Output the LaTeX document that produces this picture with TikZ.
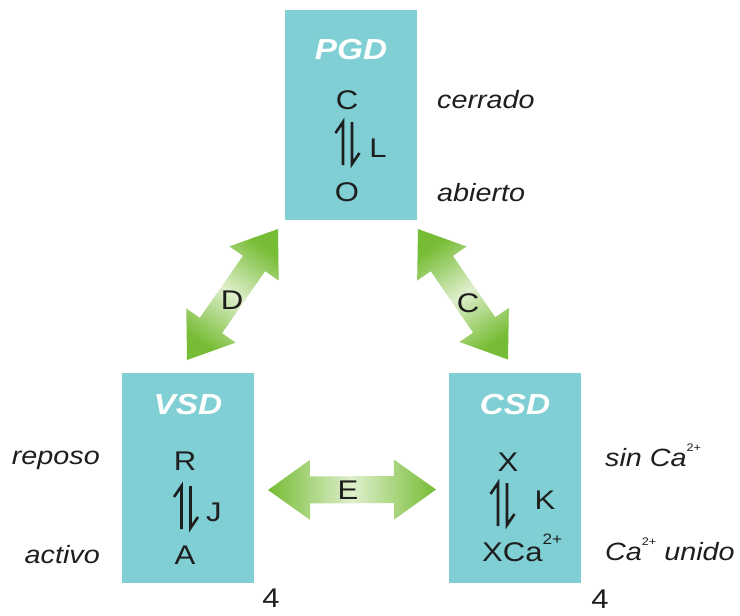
\documentclass[tikz,border=0pt]{standalone}
\usepackage{fontspec}
\setmainfont{Liberation Sans}
\newfontfamily\widefont[FakeStretch=1.15]{Liberation Sans}
\usetikzlibrary{calc}
\definecolor{boxc}{RGB}{128,207,212}
\definecolor{grn}{RGB}{118,188,52}
\definecolor{pale}{RGB}{222,239,204}
\definecolor{ink}{RGB}{30,30,30}
\tikzset{
  box/.style={fill=boxc, draw=none, minimum width=132pt, minimum height=210pt, inner sep=0pt, outer sep=0pt},
  titletext/.style={text=white, font=\widefont\bfseries\itshape\fontsize{29}{30}\selectfont, inner sep=0pt},
  symtext/.style={text=ink, font=\widefont\fontsize{27}{30}\selectfont, inner sep=0pt},
  sidetext/.style={text=ink, font=\widefont\itshape\fontsize{25}{28}\selectfont, inner sep=0pt},
  harpline/.style={draw=ink, line width=2.6pt, line cap=butt, line join=miter},
}
% double arrow between two named coordinates
\newcommand\dblarr[3]{%
  \coordinate (#1h) at ($(#1)!42pt!(#2)$);
  \coordinate (#2h) at ($(#2)!42pt!(#1)$);
  \shade[left color=grn, right color=grn, middle color=pale, shading angle=#3]
    (#1) -- ($(#1h)!30pt!90:(#2)$) -- ($(#1h)!13.5pt!90:(#2)$)
    -- ($(#2h)!13.5pt!-90:(#1)$) -- ($(#2h)!30pt!-90:(#1)$) -- (#2)
    -- ($(#2h)!30pt!90:(#1)$) -- ($(#2h)!13.5pt!90:(#1)$)
    -- ($(#1h)!13.5pt!-90:(#2)$) -- ($(#1h)!30pt!-90:(#2)$) -- cycle;
}
% equilibrium harpoons centred at a named coordinate
\newcommand\harp[1]{%
  \draw[harpline] ($(#1)+(-4.5,22)$) -- ($(#1)+(-4.5,-21)$) -- ($(#1)+(-12,-10)$);
  \draw[harpline] ($(#1)+(4.5,-21)$) -- ($(#1)+(4.5,21)$) -- ($(#1)+(12,10)$);
}
\begin{document}
\begin{tikzpicture}[x=1pt, y=-1pt]
\useasboundingbox (0,0) rectangle (740,616);
\fill[white] (0,0) rectangle (740,616);

% boxes
\node[box] (pgd) at (351,115) {};
\node[box] (vsd) at (188,478) {};
\node[box] (csd) at (515,477.5) {};

% arrow ends
\coordinate (dA) at ($(vsd.north)+(-1,-13)$);
\coordinate (dB) at ($(pgd.south west)+(-7,9)$);
\coordinate (cA) at ($(pgd.south east)+(1,9)$);
\coordinate (cB) at ($(csd.north)+(-7,-13)$);
\coordinate (eA) at ($(vsd.east)+(14,12)$);
\coordinate (eB) at ($(csd.west)+(-13,12)$);

\dblarr{dA}{dB}{-35}
\dblarr{cA}{cB}{35}
\dblarr{eA}{eB}{90}

\node[symtext] (lD) at (232,300) {D};
\node[symtext] (lC) at (468,303) {C};
\node[symtext] (lE) at (348,490) {E};

% PGD
\node[titletext] (tp) at (351,50) {PGD};
\node[symtext] (pc) at (347,100) {C};
\node[symtext] (pl) at (378,148) {L};
\node[symtext] (po) at (347,192) {O};
\coordinate (ph) at (347.5,143);
\harp{ph}
\node[sidetext, anchor=west] (cer) at (437,100) {cerrado};
\node[sidetext, anchor=west] (abi) at (437,193) {abierto};

% VSD
\node[titletext] (tv) at (188,405) {VSD};
\node[symtext] (vr) at (185,461) {R};
\node[symtext] (vj) at (214,512) {J};
\node[symtext] (va) at (185,555) {A};
\coordinate (vh) at (186,507);
\harp{vh}
\node[sidetext, anchor=east] (rep) at (100,460) {reposo};
\node[sidetext, anchor=east] (act) at (100,555) {activo};
\node[symtext] (v4) at (271,598) {4};

% CSD
\node[titletext] (tc) at (515,405) {CSD};
\node[symtext] (cx) at (508,462) {X};
\node[symtext] (ck) at (545,500) {K};
\node[symtext, anchor=base west] (cxca) at (482,561) {XCa\raisebox{0.62em}{\fontsize{15}{15}\selectfont 2+}};
\coordinate (ch) at (502.5,504);
\harp{ch}
\node[sidetext, anchor=base west] (sin) at (605,466) {sin Ca\raisebox{0.6em}{\fontsize{11}{11}\selectfont\upshape 2+}};
\node[sidetext, anchor=base west] (uni) at (605,560) {Ca\raisebox{0.6em}{\fontsize{11}{11}\selectfont\upshape 2+} unido};
\node[symtext] (c4) at (600,599) {4};
\end{tikzpicture}
\end{document}
